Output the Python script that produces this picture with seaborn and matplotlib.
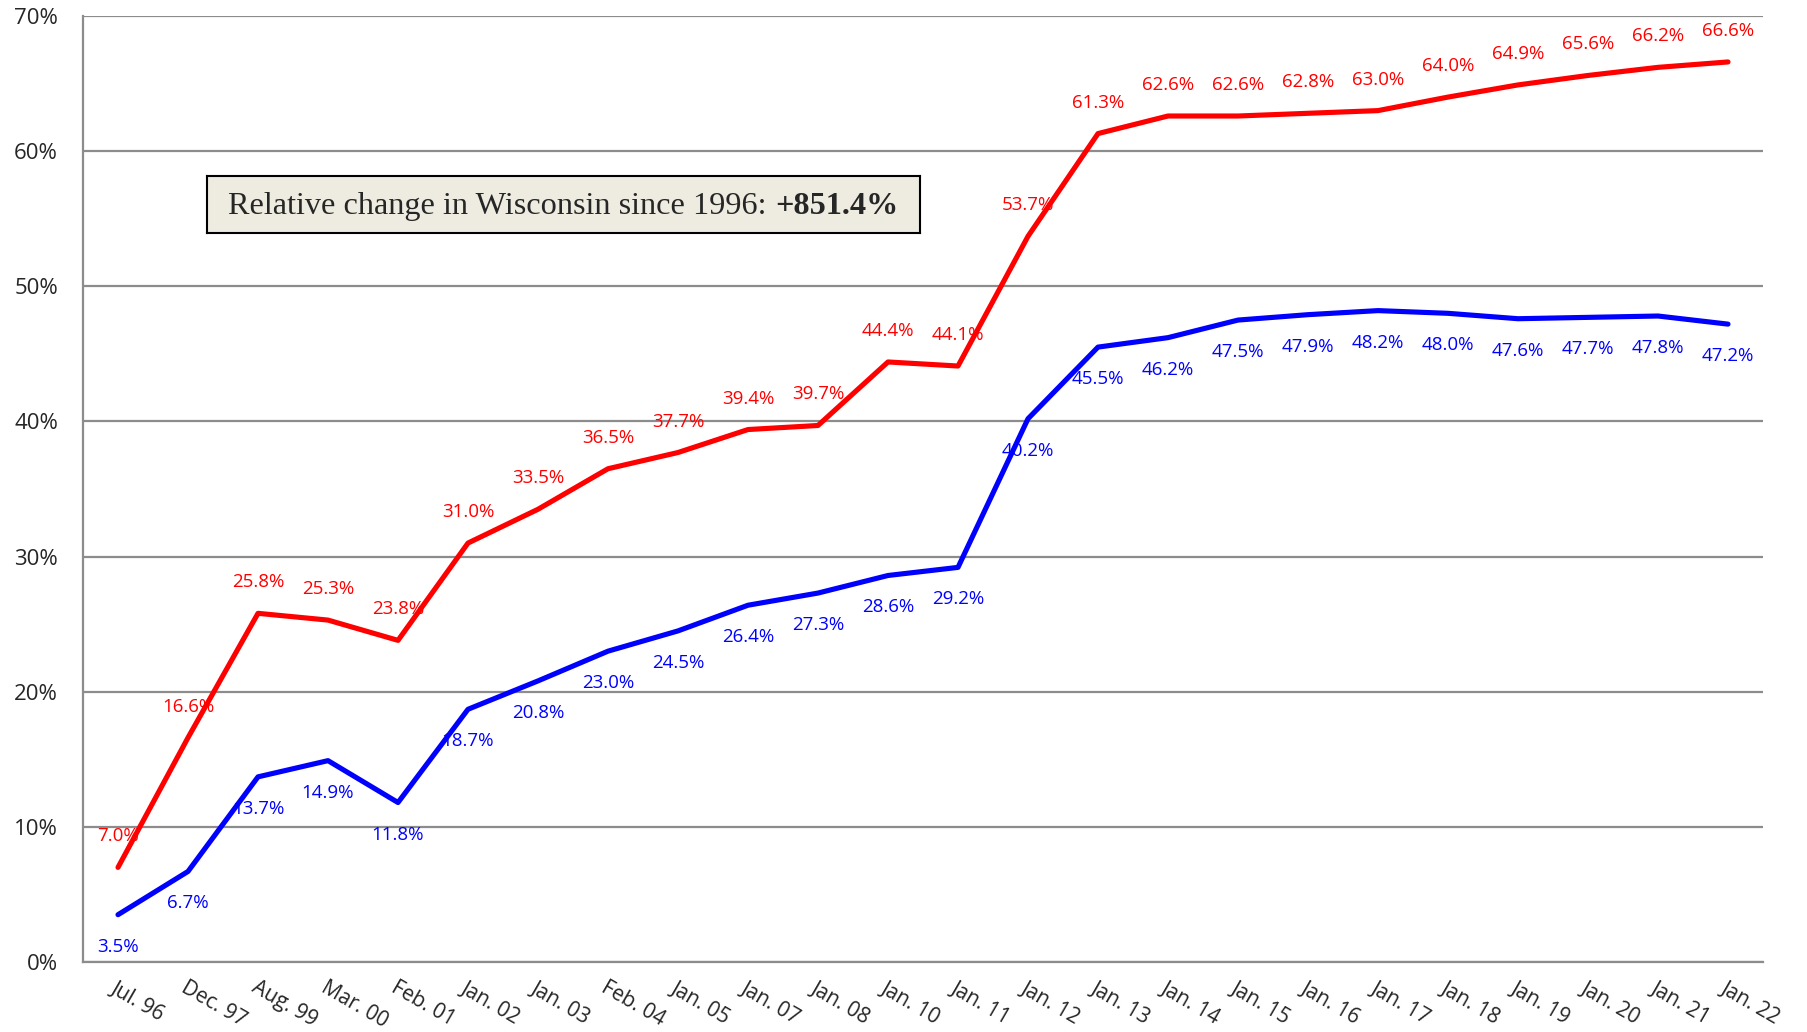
import matplotlib
matplotlib.use("Agg")
import matplotlib.pyplot as plt
import seaborn as sns
import pandas as pd
import numpy as np
from matplotlib.ticker import FixedLocator, FuncFormatter

categories = ["Jul. 96", "Dec. 97", "Aug. 99", "Mar. 00", "Feb. 01", "Jan. 02", "Jan. 03",
              "Feb. 04", "Jan. 05", "Jan. 07", "Jan. 08", "Jan. 10", "Jan. 11", "Jan. 12",
              "Jan. 13", "Jan. 14", "Jan. 15", "Jan. 16", "Jan. 17", "Jan. 18", "Jan. 19",
              "Jan. 20", "Jan. 21", "Jan. 22"]
red_values = [7.0, 16.6, 25.8, 25.3, 23.8, 31.0, 33.5, 36.5, 37.7, 39.4, 39.7, 44.4, 44.1,
              53.7, 61.3, 62.6, 62.6, 62.8, 63.0, 64.0, 64.9, 65.6, 66.2, 66.6]
blue_values = [3.5, 6.7, 13.7, 14.9, 11.8, 18.7, 20.8, 23.0, 24.5, 26.4, 27.3, 28.6, 29.2,
               40.2, 45.5, 46.2, 47.5, 47.9, 48.2, 48.0, 47.6, 47.7, 47.8, 47.2]
y_ticks = [0, 10, 20, 30, 40, 50, 60, 70]
box_text_plain = "Relative change in Wisconsin since 1996: "
box_text_bold = "+851.4%"

sns.set_style("white")
plt.rcParams['font.family'] = ['Open Sans', 'DejaVu Sans']

n = len(categories)
idx = np.arange(n)
df = pd.DataFrame({
    "x": np.concatenate([idx, idx]),
    "value": red_values + blue_values,
    "series": ["red"] * n + ["blue"] * n,
})

fig = plt.figure(figsize=(18.07, 10.32), dpi=100)
ax = fig.add_axes([83 / 1807, 1 - 962 / 1032, (1763 - 83) / 1807, (962 - 16) / 1032])

sns.lineplot(data=df, x="x", y="value", hue="series",
             palette={"red": "#FF0000", "blue": "#0000FF"},
             linewidth=3.7, ax=ax, legend=False, sort=False)

for xi, v in zip(idx, red_values):
    ax.annotate(f"{v:.1f}%", (xi, v), xytext=(0, 31), textcoords="offset pixels",
                ha="center", va="center", color="#FF0000", fontsize=13.5)
for xi, v in zip(idx, blue_values):
    ax.annotate(f"{v:.1f}%", (xi, v), xytext=(0, -32), textcoords="offset pixels",
                ha="center", va="center", color="#0000FF", fontsize=13.5)

ax.set_xlim(-0.5, n - 0.5)
ax.set_ylim(0, 70)
ax.set_yticks(y_ticks)
ax.yaxis.set_major_formatter(FuncFormatter(lambda v, p: f"{int(v)}%"))
ax.grid(axis="y", color="#8c8c8c", linewidth=1.6)
ax.set_axisbelow(True)

ax.set_xticks(idx)
ax.set_xticklabels(categories, rotation=-30, ha="left", va="top", rotation_mode="anchor", fontsize=15)
ax.xaxis.set_minor_locator(FixedLocator(np.arange(-0.5, n, 1.0)))
ax.tick_params(axis="x", which="major", length=0, pad=11)
ax.tick_params(axis="x", which="minor", length=9, width=1.5, color="#8c8c8c", direction="out")
ax.tick_params(axis="y", which="major", length=9, width=1.5, color="#8c8c8c", labelsize=16, pad=9)

for s in ["top", "right"]:
    ax.spines[s].set_visible(False)
for s in ["left", "bottom"]:
    ax.spines[s].set_color("#8c8c8c")
    ax.spines[s].set_linewidth(1.6)

ax.set_xlabel("")
ax.set_ylabel("")

# annotation box
bx0, by0, bx1, by1 = 207, 176, 920, 233
box_ax = fig.add_axes([bx0 / 1807, 1 - by1 / 1032, (bx1 - bx0) / 1807, (by1 - by0) / 1032])
box_ax.set_facecolor("#EEECE1")
box_ax.set_xticks([])
box_ax.set_yticks([])
for s in box_ax.spines.values():
    s.set_color("black")
    s.set_linewidth(1.5)
t1 = box_ax.text(0.03, 0.47, box_text_plain, fontsize=23.2, family="Liberation Serif",
                 ha="left", va="center", transform=box_ax.transAxes)
fig.canvas.draw()
bb = t1.get_window_extent()
inv = box_ax.transAxes.inverted()
xend = inv.transform((bb.x1, bb.y0))[0]
box_ax.text(xend, 0.47, box_text_bold, fontsize=23.2, family="Liberation Serif", weight="bold",
            ha="left", va="center", transform=box_ax.transAxes)

fig.savefig("out.png", dpi=100)
